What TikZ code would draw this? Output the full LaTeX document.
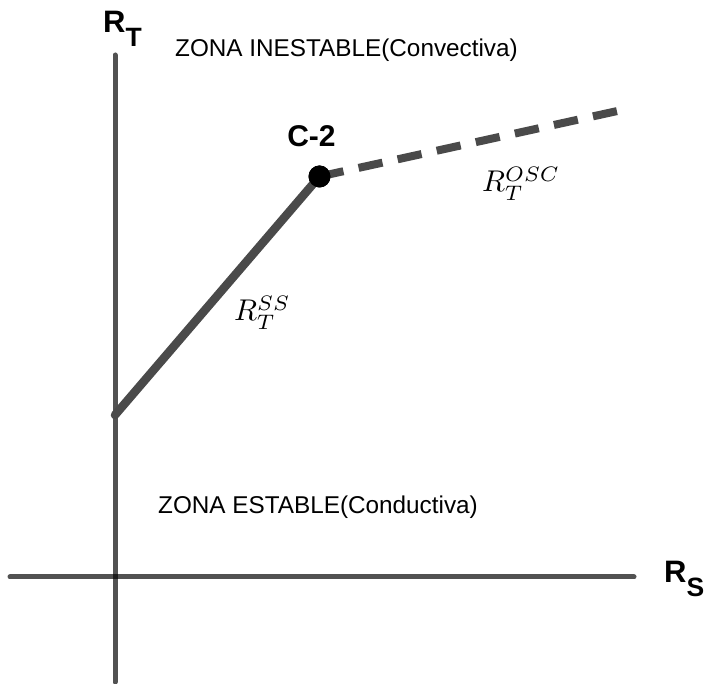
\documentclass[tikz,border=0pt]{standalone}
\usepackage{graphicx}
\usepackage{fontspec}
\setsansfont{Liberation Sans}
\usetikzlibrary{calc}
\tikzset{
  axis/.style={draw=black, draw opacity=0.68, line width=5pt, line cap=round},
  curve/.style={draw=black!71, line width=8.5pt},
  dashcurve/.style={draw=black!71, line width=8pt, dash pattern=on 24.5pt off 15.5pt},
  zonetext/.style={font=\sffamily\fontsize{24.3}{28}\selectfont, inner sep=0pt, anchor=base west},
  axlabel/.style={font=\sffamily\bfseries\fontsize{31}{36}\selectfont, inner sep=0pt, anchor=base west},
  mathlabel/.style={inner sep=0pt, anchor=base west},
  ptlabel/.style={font=\sffamily\bfseries\fontsize{30}{34}\selectfont, inner sep=0pt, anchor=base},
  dot/.style={circle, fill=black, minimum size=22pt, inner sep=0pt}
}
\begin{document}
\begin{tikzpicture}[x=1pt,y=1pt]
\useasboundingbox (0,0) rectangle (707,684);
% axes
\coordinate (ytop) at (115,629);
\coordinate (ybot) at (115,2);
\coordinate (xl) at (10,107);
\coordinate (xr) at (634,107);
\draw[axis] (ybot) -- (ytop);
\draw[axis] (xl) -- (xr);
% curves
\coordinate (p0) at (115,269);
\coordinate (dend) at (622,574);
\node[dot] (c2) at (319.5,507.5) {};
\draw[dashcurve] (c2.center) -- (dend);
\draw[curve, line cap=round] (p0) -- (c2.center);
\node[dot] at (c2.center) {};
% labels
\node[ptlabel] (c2lab) at (311.5,537) {C-2};
\node[axlabel] (rt) at (103,651) {R\raisebox{-14pt}{\fontsize{26.5}{30}\selectfont T}};
\node[axlabel] (rs) at (664,101) {R\raisebox{-14pt}{\fontsize{26.5}{30}\selectfont S}};
\node[zonetext] (zi) at (175,627) {ZONA INESTABLE(Convectiva)};
\node[zonetext] (ze) at (158,170) {ZONA ESTABLE(Conductiva)};
\node[mathlabel] (rss) at (234,363) {\scalebox{3}{$R_T^{SS}$}};
\node[mathlabel] (rosc) at (482,492) {\scalebox{3}{$R_T^{OSC}$}};
\end{tikzpicture}
\end{document}
